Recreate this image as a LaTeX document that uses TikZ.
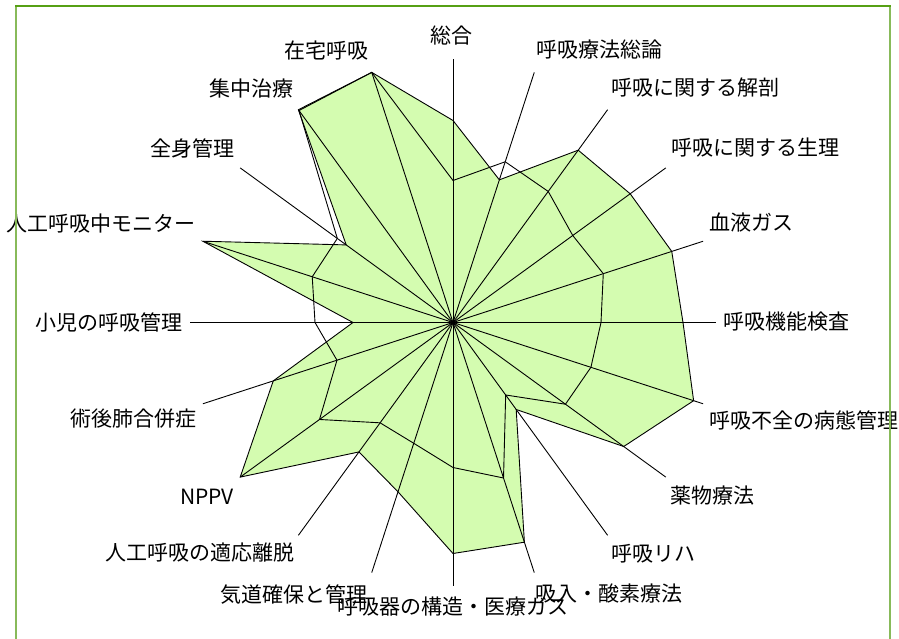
\documentclass[tikz,border=0pt]{standalone}
\usepackage{fontspec}
\setmainfont{Noto Sans CJK JP}
\definecolor{chartgreen}{RGB}{212,252,176}
\definecolor{bordertop}{RGB}{86,160,20}
\definecolor{borderside}{RGB}{136,186,90}
\begin{document}
\begin{tikzpicture}[x=1pt,y=1pt,
  lbl/.style={font=\fontsize{21}{24}\selectfont, inner sep=0pt, anchor=center},
  spoke/.style={draw=black, line width=0.9pt},
  serA/.style={draw=black, fill=chartgreen, line width=0.9pt, line join=miter},
  serB/.style={draw=black, line width=0.9pt, line join=miter},
  frameline/.style={line width=1.8pt}]
\useasboundingbox (0,0) rectangle (899,638);
\begin{scope}[shift={(453,315.5)}]
  \coordinate (c) at (0,0);
  % series A (filled)
  \fill[chartgreen] (90:202) -- (72:150) -- (54:213) -- (36:219) -- (18:230) -- (0:230)
    -- (-18:253) -- (-36:211) -- (-54:107.5) -- (-72:231) -- (-90:231) -- (-108:178)
    -- (-126:160) -- (-144:263) -- (-162:189) -- (-180:100) -- (-198:263) -- (-216:132)
    -- (-234:263) -- (-252:263) -- cycle;
  % spokes
  \foreach \i in {0,...,19} {
    \coordinate (ax\i) at ({90-18*\i}:263);
    \draw[spoke] (c) -- (ax\i);
  }
  \draw[serB] (90:202) -- (72:150) -- (54:213) -- (36:219) -- (18:230) -- (0:230)
    -- (-18:253) -- (-36:211) -- (-54:107.5) -- (-72:231) -- (-90:231) -- (-108:178)
    -- (-126:160) -- (-144:263) -- (-162:189) -- (-180:100) -- (-198:263) -- (-216:132)
    -- (-234:263) -- (-252:263) -- cycle;
  % series B (outline)
  \draw[serB] (90:142) -- (72:169) -- (54:162) -- (36:148) -- (18:158) -- (0:148)
    -- (-18:145) -- (-36:139) -- (-54:89.6) -- (-72:163.5) -- (-90:145) -- (-108:127)
    -- (-126:124) -- (-144:165) -- (-162:122) -- (-180:138) -- (-198:148) -- (-216:143)
    -- (-234:262) -- (-252:263) -- cycle;
\end{scope}
% labels
\node[lbl] (l0) at (451.7,602) {総合};
\node[lbl] (l1) at (599,588) {呼吸療法総論};
\node[lbl] (l2) at (695,550) {呼吸に関する解剖};
\node[lbl] (l3) at (755,490.5) {呼吸に関する生理};
\node[lbl] (l4) at (751,415.5) {血液ガス};
\node[lbl] (l5) at (786,316) {呼吸機能検査};
\node[lbl] (l6) at (804,218) {呼吸不全の病態管理};
\node[lbl] (l7) at (712,142.5) {薬物療法};
\node[lbl] (l8) at (653,84) {呼吸リハ};
\node[lbl] (l9) at (609,44) {吸入・酸素療法};
\node[lbl] (l10) at (452.5,31.5) {呼吸器の構造・医療ガス};
\node[lbl] (l11) at (294,43) {気道確保と管理};
\node[lbl] (l12) at (200,85) {人工呼吸の適応離脱};
\node[lbl] (l13) at (207,141) {NPPV};
\node[lbl] (l14) at (133.5,219) {術後肺合併症};
\node[lbl] (l15) at (109,315.5) {小児の呼吸管理};
\node[lbl] (l16) at (100.8,414) {人工呼吸中モニター};
\node[lbl] (l17) at (192.5,490) {全身管理};
\node[lbl] (l18) at (251.7,549.5) {集中治療};
\node[lbl] (l19) at (326.7,587.5) {在宅呼吸};
% frame
\draw[frameline, borderside] (16,-2) -- (16,632);
\draw[frameline, borderside] (890,-2) -- (890,632);
\draw[frameline, bordertop] (15.1,632) -- (890.9,632);
\end{tikzpicture}
\end{document}
